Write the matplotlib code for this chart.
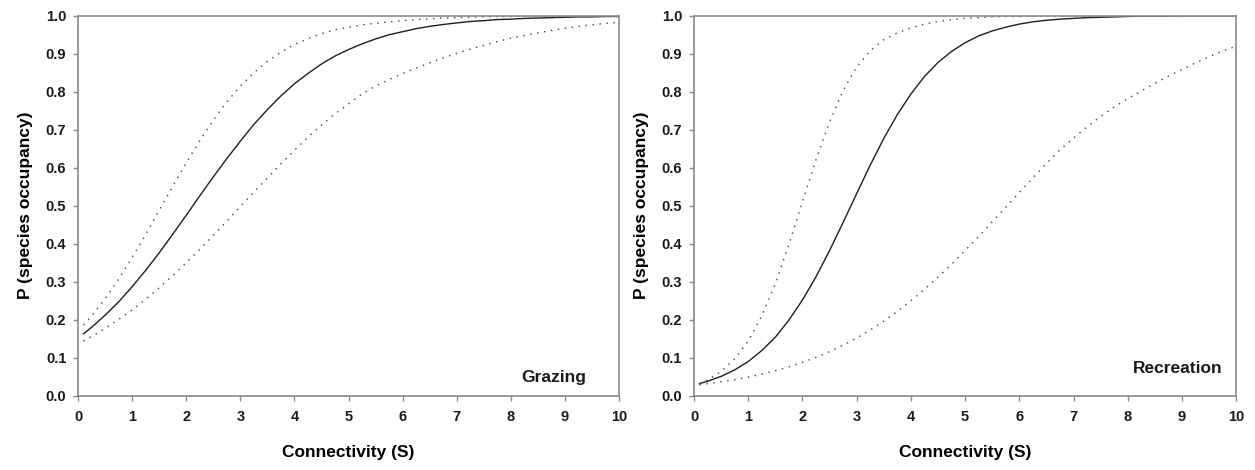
import numpy as np
import matplotlib
matplotlib.use("Agg")
import matplotlib.pyplot as plt

# -----------------------------------------
#  Data
# -----------------------------------------

x = [0.1, 0.25, 0.5, 0.75, 1.0, 1.25, 1.5, 1.75, 2.0, 2.25, 2.5, 2.75, 3.0, 3.25,
     3.5, 3.75, 4.0, 4.25, 4.5, 4.75, 5.0, 5.25, 5.5, 5.75, 6.0, 6.25, 6.5, 6.75,
     7.0, 7.25, 7.5, 7.75, 8.0, 8.25, 8.5, 8.75, 9.0, 9.25, 9.5, 9.75, 10.0]

# Grazing
grazing_fit = [0.163, 0.180, 0.212, 0.247, 0.287, 0.330, 0.376, 0.425, 0.475, 0.526,
               0.576, 0.624, 0.670, 0.714, 0.753, 0.789, 0.821, 0.848, 0.873, 0.894,
               0.911, 0.926, 0.939, 0.950, 0.958, 0.966, 0.972, 0.977, 0.981, 0.985,
               0.987, 0.990, 0.991, 0.993, 0.994, 0.995, 0.996, 0.997, 0.997, 0.998, 0.998]
grazing_upper = [0.186, 0.210, 0.255, 0.307, 0.364, 0.424, 0.488, 0.551, 0.613, 0.671,
                 0.725, 0.773, 0.815, 0.850, 0.880, 0.904, 0.924, 0.940, 0.953, 0.963,
                 0.970, 0.976, 0.980, 0.984, 0.987, 0.990, 0.992, 0.994, 0.995, 0.996,
                 0.997, 0.998, 0.998, 0.999, 0.999, 0.999, 0.999, 0.999, 0.999, 0.999, 0.999]
grazing_lower = [0.144, 0.156, 0.177, 0.201, 0.226, 0.254, 0.284, 0.316, 0.350, 0.385,
                 0.422, 0.459, 0.498, 0.536, 0.573, 0.610, 0.646, 0.680, 0.712, 0.742,
                 0.768, 0.794, 0.815, 0.832, 0.848, 0.862, 0.876, 0.889, 0.901, 0.912,
                 0.922, 0.932, 0.941, 0.948, 0.955, 0.961, 0.967, 0.972, 0.976, 0.980, 0.983]

# Recreation
recreation_fit = [0.032, 0.038, 0.051, 0.068, 0.090, 0.119, 0.154, 0.199, 0.252, 0.313,
                  0.382, 0.456, 0.532, 0.607, 0.677, 0.740, 0.794, 0.840, 0.877, 0.906,
                  0.929, 0.947, 0.960, 0.970, 0.978, 0.984, 0.988, 0.991, 0.993, 0.995,
                  0.996, 0.997, 0.998, 0.999, 0.999, 0.999, 1.0, 1.0, 1.0, 1.0, 1.0]
recreation_upper = [0.032, 0.041, 0.064, 0.097, 0.144, 0.210, 0.295, 0.398, 0.510, 0.621,
                    0.721, 0.803, 0.865, 0.908, 0.937, 0.955, 0.968, 0.978, 0.985, 0.990,
                    0.993, 0.995, 0.997, 0.998, 0.998, 0.999, 0.999, 0.999, 0.999, 0.999,
                    1.0, 1.0, 1.0, 1.0, 1.0, 1.0, 1.0, 1.0, 1.0, 1.0, 1.0]
recreation_lower = [0.029, 0.032, 0.037, 0.042, 0.049, 0.057, 0.066, 0.076, 0.088, 0.101,
                    0.116, 0.133, 0.152, 0.173, 0.196, 0.222, 0.250, 0.280, 0.312, 0.346,
                    0.382, 0.419, 0.458, 0.496, 0.535, 0.573, 0.611, 0.647, 0.678, 0.708,
                    0.735, 0.760, 0.782, 0.802, 0.822, 0.841, 0.858, 0.876, 0.892, 0.907, 0.920]

panels = [
    ("Grazing", grazing_fit, grazing_upper, grazing_lower, (9.4, 0.037)),
    ("Recreation", recreation_fit, recreation_upper, recreation_lower, (9.75, 0.059)),
]

# -----------------------------------------
#  Plot
# -----------------------------------------

plt.rcParams['font.family'] = ['Liberation Sans', 'DejaVu Sans']
plt.rcParams['font.weight'] = 'bold'

fig = plt.figure(figsize=(12.55, 4.70), dpi=100)
ax_pos = [[0.0622, 0.158, 0.431, 0.8085], [0.553, 0.158, 0.432, 0.8085]]

spine_col = '#8a8a8a'
dot_style = (0, (1, 3.8))

for pos, (name, fit, upper, lower, txt) in zip(ax_pos, panels):
    ax = fig.add_axes(pos)
    ax.plot(x, fit, color='#1e1e1e', lw=1.0)
    ax.plot(x, upper, color='#505050', lw=1.05, linestyle=dot_style)
    ax.plot(x, lower, color='#505050', lw=1.05, linestyle=dot_style)

    ax.set_xlim(0, 10)
    ax.set_ylim(0, 1.0)
    ax.set_xticks(range(0, 11))
    ax.set_yticks(np.round(np.arange(0, 1.01, 0.1), 1))
    ax.set_yticklabels([f"{v:.1f}" for v in np.arange(0, 1.01, 0.1)])

    for sp in ax.spines.values():
        sp.set_color(spine_col)
        sp.set_linewidth(1.2)
    ax.tick_params(direction='out', length=3.5, width=1.0, color=spine_col,
                   labelsize=10.5, labelcolor='#1a1a1a')
    ax.tick_params(axis='x', pad=7)
    ax.tick_params(axis='y', pad=5)
    for lab in ax.get_xticklabels() + ax.get_yticklabels():
        lab.set_fontweight('bold')

    ax.set_xlabel("Connectivity (S)", fontsize=12.5, fontweight='bold', labelpad=15)
    ax.set_ylabel("P (species occupancy)", fontsize=12.5, fontweight='bold', labelpad=9)
    ax.text(txt[0], txt[1], name, ha='right', va='baseline', fontsize=12.5,
            fontweight='bold', color='#1a1a1a')

plt.savefig("out.png", dpi=100)
